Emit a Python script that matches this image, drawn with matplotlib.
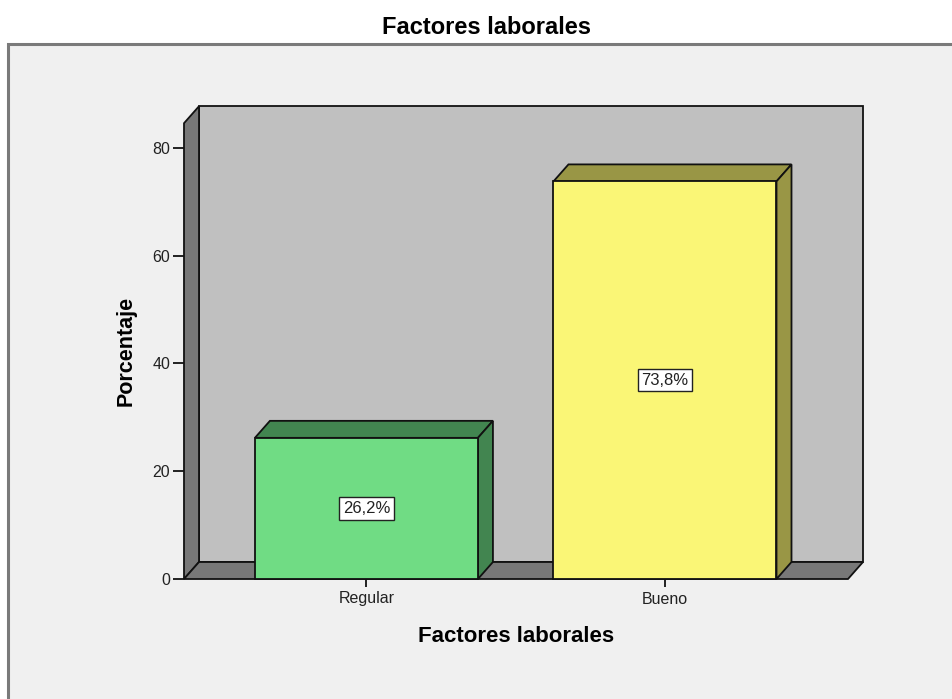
import matplotlib.pyplot as plt
from matplotlib.patches import Polygon, Rectangle

categories = ['Regular', 'Bueno']
percentages = [26.2, 73.8]
y_ticks = [0, 20, 40, 60, 80]

front_colors = ['#70dc84', '#faf676']
shade_colors = ['#428550', '#999645']
wall_color = '#c0c0c0'
floor_color = '#787878'
panel_color = '#f0f0f0'

plt.rcParams['font.family'] = ['Liberation Sans', 'DejaVu Sans']

W, H = 953, 699
fig = plt.figure(figsize=(W / 100, H / 100), dpi=100, facecolor='white')

# grey chart panel with a dark frame on the left and top
fig.patches.append(Rectangle((8 / W, -0.1), 1.2, (H - 44) / H + 0.1,
                             transform=fig.transFigure, facecolor=panel_color,
                             edgecolor='#7a7a7a', linewidth=2.2, zorder=-1))

x_min, x_max = -0.611, 1.613
y_max = 84.6
ax_left, ax_right, ax_bottom = 184, 848, 579
ax_h = 431 / 80 * y_max
ax = fig.add_axes([ax_left / W, (H - ax_bottom) / H,
                   (ax_right - ax_left) / W, ax_h / H])
ax.set_xlim(x_min, x_max)
ax.set_ylim(0, y_max)
ax.patch.set_visible(False)
for s in ax.spines.values():
    s.set_visible(False)

# depth of the 3D effect, in pixels converted to data units
dx = 15 * (x_max - x_min) / (ax_right - ax_left)
dy = 17 * y_max / ax_h

edge = dict(edgecolor='#111111', linewidth=1.3, clip_on=False)

# back wall, left wall and floor
ax.add_patch(Polygon([(x_min + dx, dy), (x_max + dx, dy), (x_max + dx, y_max + dy),
                      (x_min + dx, y_max + dy)], facecolor=wall_color, zorder=1, **edge))
ax.add_patch(Polygon([(x_min, 0), (x_min + dx, dy), (x_min + dx, y_max + dy),
                      (x_min, y_max)], facecolor=floor_color, zorder=1, **edge))
ax.add_patch(Polygon([(x_min, 0), (x_max, 0), (x_max + dx, dy), (x_min + dx, dy)],
                     facecolor=floor_color, zorder=1, **edge))

bar_w = 0.747
for i, (cat, val) in enumerate(zip(categories, percentages)):
    l, r = i - bar_w / 2, i + bar_w / 2
    ax.add_patch(Polygon([(l, val), (r, val), (r + dx, val + dy), (l + dx, val + dy)],
                         facecolor=shade_colors[i], zorder=3, **edge))
    ax.add_patch(Polygon([(r, 0), (r + dx, dy), (r + dx, val + dy), (r, val)],
                         facecolor=shade_colors[i], zorder=3, **edge))
    ax.add_patch(Rectangle((l, 0), bar_w, val, facecolor=front_colors[i], zorder=4, **edge))
    ax.text(i, val / 2, f'{val:.1f}%'.replace('.', ','), ha='center', va='center',
            fontsize=12, color='#222222', zorder=5,
            bbox=dict(boxstyle='square,pad=0.22', facecolor='white',
                      edgecolor='#222222', linewidth=1.0))

ax.set_yticks(y_ticks)
ax.set_yticklabels([str(t) for t in y_ticks])
ax.set_xticks(range(len(categories)))
ax.set_xticklabels(categories)
ax.tick_params(axis='y', length=8, width=1.3, pad=2, labelsize=11.5,
               color='#111111', labelcolor='#222222')
ax.tick_params(axis='x', length=6, width=1.3, pad=3, labelsize=11.5,
               color='#111111', labelcolor='#222222')

ax.set_xlabel('Factores laborales', fontsize=16, fontweight='bold', labelpad=14)
ax.set_ylabel('Porcentaje', fontsize=15.5, fontweight='bold', labelpad=11)

fig.text(487 / W, 1 - 27 / H, 'Factores laborales', ha='center', va='center',
         fontsize=17, fontweight='bold')

fig.savefig('out.png', dpi=100, facecolor=fig.get_facecolor())
